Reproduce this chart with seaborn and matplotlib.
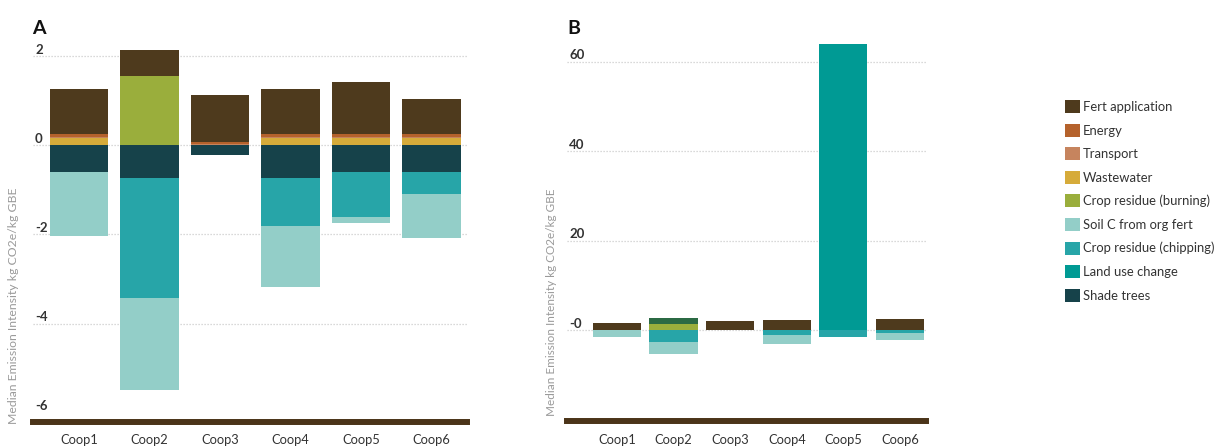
import matplotlib
matplotlib.use("Agg")
import matplotlib.pyplot as plt
import matplotlib.transforms as mtransforms
from matplotlib.patches import Patch
import numpy as np
import seaborn as sns

# ---- data ---------------------------------------------------------------
coops = ["Coop1", "Coop2", "Coop3", "Coop4", "Coop5", "Coop6"]

sources = ["Fert application", "Energy", "Transport", "Wastewater",
           "Crop residue (burning)", "Soil C from org fert",
           "Crop residue (chipping)", "Land use change", "Shade trees"]

# Panel A: median emission intensity by source (kg CO2e / kg GBE)
a_fert_application = [1.02, 0.58, 1.05, 1.02, 1.17, 0.79]
a_energy = [0.05, 0.0, 0.05, 0.05, 0.05, 0.05]
a_transport = [0.04, 0.0, 0.02, 0.04, 0.04, 0.04]
a_wastewater = [0.15, 0.0, 0.0, 0.15, 0.15, 0.15]
a_residue_burning = [0.0, 1.55, 0.0, 0.0, 0.0, 0.0]
a_soil_c = [-1.44, -2.07, 0.0, -1.37, -0.13, -0.98]
a_residue_chipping = [0.0, -2.70, 0.0, -1.08, -1.01, -0.50]
a_land_use_change = [0.0, 0.0, 0.0, 0.0, 0.0, 0.0]
a_shade_trees = [-0.60, -0.73, -0.23, -0.73, -0.60, -0.60]

# Panel B: including land use change
b_fert_application = [1.6, 0.0, 2.0, 2.2, 0.0, 2.4]
b_other = [0.0, 1.5, 0.0, 0.0, 0.0, 0.0]
b_residue_burning = [0.0, 1.3, 0.0, 0.0, 0.0, 0.0]
b_soil_c = [-1.5, -2.75, 0.0, -2.0, 0.0, -1.6]
b_residue_chipping = [0.0, -2.7, 0.0, -1.2, -1.5, -0.6]
b_land_use_change = [0.0, 0.0, 0.0, 0.0, 64.0, 0.0]

a_ticks = [2, 0, -2, -4, -6]
a_tick_labels = ["2", "0", "-2", "-4", "-6"]
b_ticks = [0, 20, 40, 60]
b_tick_labels = ["-0", "20", "40", "60"]

y_label = "Median Emission Intensity kg CO2e/kg GBE"

# ---- style --------------------------------------------------------------
colors = {
    "Fert application": "#4e3a1d",
    "Energy": "#b5622c",
    "Transport": "#c6845e",
    "Wastewater": "#d6ab3a",
    "Crop residue (burning)": "#9aae3c",
    "Soil C from org fert": "#93cec8",
    "Crop residue (chipping)": "#27a5a8",
    "Land use change": "#009a94",
    "Shade trees": "#16424a",
    "Other": "#2b6a44",
}

sns.set_theme(style="white")
plt.rcParams["font.family"] = ["Lato", "DejaVu Sans"]

AXIS_BROWN = "#4b3419"
TEXT_DARK = "#333333"


def draw_stack(ax, pos_layers, neg_layers, width):
    """Stack layers (listed from zero outward) by overdrawing cumulative bars."""
    for layers in (pos_layers, neg_layers):
        cum = np.zeros(len(coops))
        totals = []
        for name, vals in layers:
            cum = cum + np.asarray(vals, dtype=float)
            totals.append((cum.copy(), colors[name]))
        for tot, col in reversed(totals):
            sns.barplot(x=coops, y=tot, color=col, saturation=1, width=width,
                        errorbar=None, linewidth=0, ax=ax)


def style_axis(ax, ticks, labels, hide_grid=()):
    for side in ("left", "top", "right"):
        ax.spines[side].set_visible(False)
    ax.spines["bottom"].set_color(AXIS_BROWN)
    ax.spines["bottom"].set_linewidth(4.3)
    ax.set_yticks(ticks)
    ax.tick_params(axis="y", length=0, labelleft=False)
    ax.tick_params(axis="x", length=0, pad=9, labelsize=9.3, labelcolor=TEXT_DARK)
    ax.yaxis.grid(True, linestyle=(0, (1, 1.4)), color="#cdcdcd", linewidth=0.9)
    for i, gl in enumerate(ax.get_ygridlines()):
        if ticks[i] in hide_grid:
            gl.set_visible(False)
    ax.set_axisbelow(True)
    ax.set_xlabel("")
    ax.set_ylabel("")
    trans = mtransforms.offset_copy(
        mtransforms.blended_transform_factory(ax.transAxes, ax.transData),
        fig=ax.figure, x=2, y=6.5, units="dots")
    for t, lab in zip(ticks, labels):
        ax.text(0.0, t, lab, transform=trans, ha="left", va="center",
                fontsize=9.5, fontweight="bold", color=TEXT_DARK)


fig = plt.figure(figsize=(12.2, 4.46), dpi=100)

# ---- panel A ------------------------------------------------------------
axA = fig.add_axes([0.02705, 0.0547, 0.3557, 0.8497])
draw_stack(
    axA,
    [("Crop residue (burning)", a_residue_burning),
     ("Wastewater", a_wastewater),
     ("Transport", a_transport),
     ("Energy", a_energy),
     ("Fert application", a_fert_application)],
    [("Shade trees", a_shade_trees),
     ("Land use change", a_land_use_change),
     ("Crop residue (chipping)", a_residue_chipping),
     ("Soil C from org fert", a_soil_c)],
    width=0.83,
)
axA.set_ylim(-6.2, 2.3)
axA.set_xlim(-0.65, 5.5)
style_axis(axA, a_ticks, a_tick_labels, hide_grid=(-6,))

# ---- panel B ------------------------------------------------------------
axB = fig.add_axes([0.4648, 0.0556, 0.2943, 0.8659])
draw_stack(
    axB,
    [("Land use change", b_land_use_change),
     ("Crop residue (burning)", b_residue_burning),
     ("Other", b_other),
     ("Fert application", b_fert_application)],
    [("Crop residue (chipping)", b_residue_chipping),
     ("Soil C from org fert", b_soil_c)],
    width=0.85,
)
axB.set_ylim(-20.4, 66)
axB.set_xlim(-0.88, 5.46)
style_axis(axB, b_ticks, b_tick_labels)

# ---- labels ---------------------------------------------------------------
fig.text(0.0107, 0.314, y_label, rotation=90, ha="center", va="center",
         fontsize=8.8, color="#9a9a9a")
fig.text(0.4522, 0.323, y_label, rotation=90, ha="center", va="center",
         fontsize=8.5, color="#9a9a9a")
fig.text(0.026, 0.935, "A", fontsize=14, fontweight="bold", color="#111111",
         ha="left", va="center")
fig.text(0.465, 0.935, "B", fontsize=14, fontweight="bold", color="#111111",
         ha="left", va="center")

# ---- legend ---------------------------------------------------------------
handles = [Patch(facecolor=colors[s], edgecolor="none", label=s) for s in sources]
fig.legend(handles=handles, loc="upper left", bbox_to_anchor=(0.873, 0.775),
           frameon=False, fontsize=9.4, handlelength=1.15, handleheight=1.15,
           handletextpad=0.2, labelspacing=0.81, borderpad=0, borderaxespad=0,
           labelcolor=TEXT_DARK)

fig.savefig("out.png", dpi=100)
